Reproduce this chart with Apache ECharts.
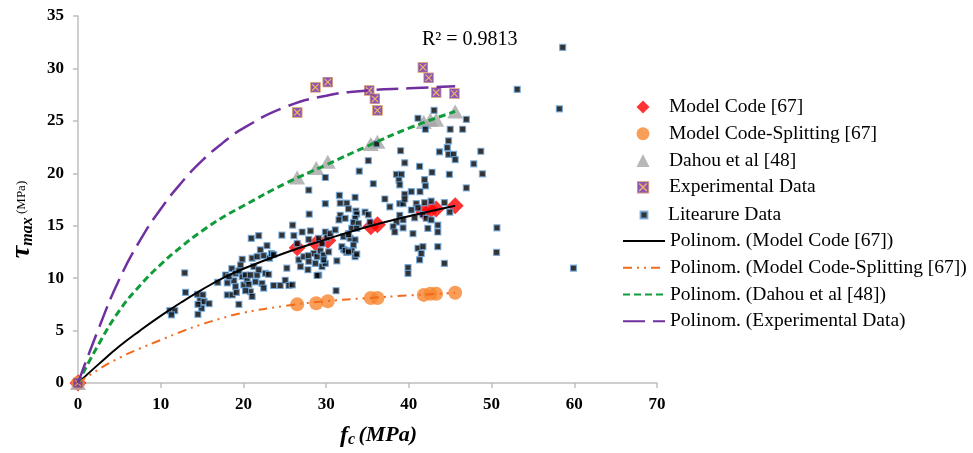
<!DOCTYPE html>
<html><head><meta charset="utf-8">
<script src="https://cdn.jsdelivr.net/npm/echarts@6/dist/echarts.min.js"></script>
<style>html,body{margin:0;padding:0;background:#fff}#c{width:973px;height:453px}</style>
</head><body><div id="c"></div>
<script>
// ---- data ----
const fcDesign = [0, 26.5, 28.8, 30.2, 35.4, 36.2, 41.8, 42.6, 43.3, 45.6];
const modelCode = [0, 12.9, 13.3, 13.6, 14.9, 15.1, 16.3, 16.5, 16.6, 16.9];
const modelCodeSplit = [0, 7.5, 7.6, 7.8, 8.1, 8.1, 8.4, 8.5, 8.5, 8.6];
const dahou = [0, 19.6, 20.5, 21.1, 22.8, 23.0, 24.9, 25.1, 25.1, 25.9];
const expX = [0, 26.5, 28.7, 30.2, 35.2, 35.9, 36.2, 41.7, 42.4, 43.3, 45.5];
const expY = [0, 25.8, 28.2, 28.7, 27.9, 27.1, 26.0, 30.1, 29.1, 27.7, 27.6];

const literature = [
 [11.1,6.9],[11.7,6.9],[11.3,6.5],[12.9,10.5],[13.0,8.65],[14.45,8.46],[15.1,8.4],[14.75,7.85],[15.25,7.76],[15.85,7.57],[14.95,7.13],[14.5,6.55],[14.5,7.5],[16.9,9.6],
 [17.85,10.3],[18.6,10.9],[19.05,10.45],[18.05,9.55],[18.85,9.75],[19.05,9.2],[19.85,11.8],[19.65,11.25],[19.85,10.15],[20.05,9.35],[20.25,10.3],[20.45,9.75],[20.85,10.3],[21.05,11.9],[21.25,11.1],[20.85,8.7],[21.05,8.25],[21.45,9.65],[21.65,10.3],[21.65,12.05],[21.85,10.8],[22.05,12.7],[22.25,9.5],[22.45,12.15],[22.65,10.45],[22.85,13.1],[23.05,10.35],[23.15,11.9],[23.4,12.35],[23.65,12.25],[22.45,9.05],[23.65,9.3],[18.05,8.4],[18.65,8.4],[19.15,8.65],[19.45,7.5],[20.95,13.8],[21.85,14.05],[19.45,10.7],[20.65,9.4],[20.25,8.8],[18.25,10.15],[24.45,9.3],
 [24.65,14.1],[25.05,9.8],[25.25,10.95],[25.5,9.3],[25.9,9.35],[25.95,15.05],[26.1,14.05],[26.5,13.3],[26.7,11.75],[26.9,11.1],[27.1,14.4],[27.3,12.05],[27.8,10.8],[27.9,18.4],[27.95,16.1],[28.1,14.5],[28.5,12.35],[28.7,11.4],[28.9,12.05],[29.1,10.3],[29.3,12.6],[29.5,11.1],[29.7,12.2],[29.9,19.6],[29.9,17.1],[29.9,14.4],[29.9,11.4],[30.3,12.5],
 [27.9,13.7],[29.1,13.8],[29.5,13.3],[30.1,13.85],[29.7,11.75],[27.9,11.6],[28.9,10.25],[30.5,14.25],[27.85,12.15],
 [31.2,8.8],[31.6,17.9],[31.7,17.15],[32.5,17.15],[33.5,17.7],[32.7,16.6],[33.6,16.4],[33.7,16.1],[34.7,16.3],[35.1,16.05],[35.3,15.35],[31.7,16.0],[31.55,15.55],[32.3,15.7],[33.5,15.7],[33.3,15.3],[33.9,15.2],[33.1,14.75],[33.7,14.75],[32.7,14.25],[32.9,13.8],[33.5,13.65],[31.1,14.6],[32.1,12.75],[32.5,12.45],[33.3,13.15],[33.1,12.6],[33.5,12.05],[33.7,12.3],[31.3,11.65],
 [34.0,20.2],[35.1,21.2],[36.1,22.8],[35.7,19.0],[32.1,13.95],[32.7,14.15],[31.9,13.0],[32.3,12.65],[32.7,12.5],
 [43.05,26.0],[41.1,25.25],[46.95,25.15],[42.0,24.2],[45.0,24.2],[46.5,24.2],[44.8,23.1],[44.65,22.45],[43.7,22.05],[44.8,21.8],[45.4,21.8],[45.6,21.3],[48.7,22.1],[39.0,22.15],[47.85,20.9],[39.5,21.0],[48.9,19.95],[41.3,20.65],[42.8,20.1],[44.9,19.9],[38.5,19.9],[39.1,19.9],[38.8,19.35],[38.9,18.9],[46.95,18.6],[42.0,18.8],[41.9,19.4],[39.5,18.0],[40.3,18.25],[41.35,18.25],
 [37.1,17.55],[37.7,16.8],[38.9,17.1],[39.3,17.1],[39.5,17.55],[40.9,17.1],[41.9,17.2],[42.7,17.35],[44.3,17.2],[40.3,16.5],[41.1,16.7],[38.9,16.0],[39.3,15.55],[38.5,15.35],[38.1,14.9],[38.3,14.4],[39.3,14.8],[40.5,14.25],[40.7,15.75],[41.7,16.05],[42.1,15.7],[42.7,15.55],[42.3,14.75],[43.5,15.05],[43.5,14.4],[43.5,13.0],[44.95,16.3],[41.1,12.85],[41.7,13.0],[41.5,12.35],[41.3,11.75],[39.9,11.0],[39.9,10.45],[44.3,11.4],
 [50.65,14.8],[50.6,12.45],[59.9,10.95],[53.1,28.0],[58.2,26.15],[58.6,32.0]
];

// trendline curves
const trendX = [0, 2.5, 5, 7.5, 10, 12.5, 15, 17.5, 20, 25, 30, 35, 40, 45.6];
const trendModelCode = [0, 1.8, 3.5, 5.0, 6.4, 7.7, 8.9, 10.0, 10.9, 12.4, 13.7, 14.9, 15.9, 16.9];
const trendSplit = [0, 1.3, 2.4, 3.3, 4.1, 4.9, 5.6, 6.2, 6.7, 7.35, 7.8, 8.1, 8.35, 8.6];
const trendDahou = [0, 3.7, 6.9, 9.3, 11.3, 13.0, 14.5, 15.8, 16.9, 19.0, 20.8, 22.6, 24.3, 25.9];
const trendExp = [0, 5.2, 9.9, 13.6, 16.6, 19.1, 21.2, 22.9, 24.3, 26.3, 27.4, 27.9, 28.1, 28.3];

const xTicks = [0, 70, 10];
const yTicks = [0, 35, 5];

const names = ['Model Code [67]', 'Model Code-Splitting [67]', 'Dahou et al [48]', 'Experimental Data', 'Litearure Data',
  'Polinom. (Model Code [67])', 'Polinom. (Model Code-Splitting [67])', 'Polinom. (Dahou et al [48])', 'Polinom. (Experimental Data)'];

const zip = (xs, ys) => xs.map((x, i) => [x, ys[i]]);
const serif = 'Liberation Serif';

const expSvg = "<svg xmlns='http://www.w3.org/2000/svg' width='24' height='24'><rect x='1' y='1' width='22' height='22' fill='#7030a0' stroke='#e3a15a' stroke-width='2'/><path d='M5 5L19 19M19 5L5 19' stroke='#f7a13a' stroke-width='2.4'/></svg>";
const expSymbol = 'image://data:image/svg+xml;charset=utf-8,' + encodeURIComponent(expSvg);

const chart = echarts.init(document.getElementById('c'));
const legendText = (padLeft) => ({ fontFamily: serif, fontSize: 19.5, color: '#000', lineHeight: 20, padding: [0, 0, 0, padLeft] });
chart.setOption({
  animation: false,
  backgroundColor: '#fff',
  grid: { left: 75, right: 316, top: 16, bottom: 69 },
  legend: [
    { data: names.slice(0, 4), orient: 'vertical', left: 631.5, top: 92, itemWidth: 13, itemHeight: 13, itemGap: 6.75, symbolKeepAspect: true, textStyle: legendText(14.5) },
    { data: names.slice(4, 5), orient: 'vertical', left: 634.5, top: 200, itemWidth: 7, itemHeight: 7, itemGap: 6.75, textStyle: legendText(15.5) },
    { data: names.slice(5).map(n => ({ name: n, itemStyle: { opacity: 0 } })), orient: 'vertical', left: 617, top: 226, itemWidth: 42, itemHeight: 13, itemGap: 6.75, textStyle: legendText(0) }
  ],
  xAxis: {
    type: 'value', min: xTicks[0], max: xTicks[1], interval: xTicks[2],
    splitLine: { show: false },
    axisLine: { lineStyle: { color: '#bfbfbf', width: 1.5 } },
    axisTick: { show: true, length: 5, lineStyle: { color: '#bfbfbf', width: 1.5 } },
    axisLabel: { margin: 13, fontFamily: serif, fontWeight: 'bold', fontSize: 17, color: '#000' },
    name: '{f|f}{c|c} {m|(MPa)}', nameLocation: 'middle', nameGap: 40,
    nameTextStyle: {
      padding: [0, 0, 0, 22],
      rich: {
        f: { fontFamily: serif, fontStyle: 'italic', fontWeight: 'bold', fontSize: 24, color: '#000' },
        c: { fontFamily: serif, fontStyle: 'italic', fontWeight: 'bold', fontSize: 16, color: '#000', verticalAlign: 'bottom', padding: [9, 0, 0, 0] },
        m: { fontFamily: serif, fontStyle: 'italic', fontWeight: 'bold', fontSize: 22, color: '#000' }
      }
    }
  },
  yAxis: {
    type: 'value', min: yTicks[0], max: yTicks[1], interval: yTicks[2],
    splitLine: { show: false },
    axisLine: { show: true, lineStyle: { color: '#bfbfbf', width: 1.5 } },
    axisTick: { show: true, length: 5, lineStyle: { color: '#bfbfbf', width: 1.5 } },
    axisLabel: { margin: 14, fontFamily: serif, fontWeight: 'bold', fontSize: 17, color: '#000' },
    name: '{t|τ}{s|max} {u|(MPa)}', nameLocation: 'middle', nameGap: 42,
    nameTextStyle: {
      padding: [0, 40, 0, 0],
      rich: {
        t: { fontFamily: serif, fontStyle: 'italic', fontWeight: 'bold', fontSize: 28, color: '#000' },
        s: { fontFamily: serif, fontStyle: 'italic', fontWeight: 'bold', fontSize: 16, color: '#000', verticalAlign: 'bottom', padding: [10, 0, 0, 0] },
        u: { fontFamily: serif, fontSize: 13, color: '#000' }
      }
    }
  },
  graphic: [
    { type: 'text', left: 422, top: 30, style: { text: 'R² = 0.9813', fontFamily: serif, fontSize: 20, fill: '#000' } }
  ],
  series: [
    { name: names[0], type: 'scatter', symbol: 'diamond', symbolSize: 17, itemStyle: { color: '#ff0000' }, data: zip(fcDesign, modelCode) },
    { name: names[1], type: 'scatter', symbol: 'circle', symbolSize: 14, itemStyle: { color: '#f7862e' }, data: zip(fcDesign, modelCodeSplit) },
    { name: names[2], type: 'scatter', symbol: 'triangle', symbolSize: [16, 14], itemStyle: { color: '#a5a5a5' }, data: zip(fcDesign, dahou) },
    { name: names[3], type: 'scatter', symbol: expSymbol, symbolSize: 11, data: zip(expX, expY) },
    { name: names[4], type: 'scatter', symbol: 'rect', symbolSize: 6, itemStyle: { color: '#000', borderColor: '#6fa8dc', borderWidth: 1.2 }, data: literature },
    { name: names[5], type: 'line', smooth: true, symbol: 'none', showSymbol: false, lineStyle: { color: '#000', width: 2 }, itemStyle: { color: '#000' }, data: zip(trendX, trendModelCode) },
    { name: names[6], type: 'line', smooth: true, symbol: 'none', showSymbol: false, lineStyle: { color: '#f26a1b', width: 2, type: [9, 5, 2, 5, 2, 5] }, itemStyle: { color: '#f26a1b' }, data: zip(trendX, trendSplit) },
    { name: names[7], type: 'line', smooth: true, symbol: 'none', showSymbol: false, lineStyle: { color: '#119c3b', width: 3, type: [7, 4] }, itemStyle: { color: '#119c3b' }, data: zip(trendX, trendDahou) },
    { name: names[8], type: 'line', smooth: true, symbol: 'none', showSymbol: false, lineStyle: { color: '#7030a0', width: 2.5, type: [22, 8] }, itemStyle: { color: '#7030a0' }, data: zip(trendX, trendExp) }
  ]
});
</script>
</body></html>
